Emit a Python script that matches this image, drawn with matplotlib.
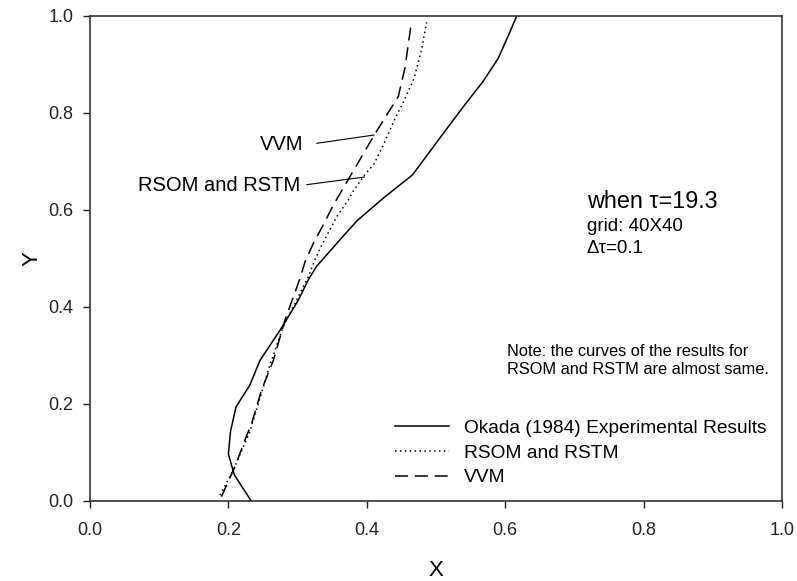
import numpy as np
import matplotlib.pyplot as plt

plt.rcParams['font.family'] = ['Liberation Sans', 'DejaVu Sans']

# Okada (1984) experimental results
okada_x = [0.233, 0.2085, 0.200, 0.203, 0.211, 0.231, 0.2457, 0.2746, 0.301, 0.3155,
           0.327, 0.3565, 0.386, 0.426, 0.4658, 0.5106, 0.5395, 0.568, 0.590, 0.605, 0.6166]
okada_y = [0.0, 0.054, 0.097, 0.143, 0.194, 0.239, 0.29, 0.352, 0.414, 0.456,
           0.483, 0.531, 0.578, 0.627, 0.672, 0.758, 0.813, 0.865, 0.913, 0.961, 1.0]

# RSOM and RSTM
rsom_x = [0.188, 0.207, 0.231, 0.260, 0.279, 0.3035, 0.3155, 0.325, 0.335, 0.344,
          0.3565, 0.373, 0.380, 0.395, 0.411, 0.425, 0.440, 0.452, 0.468, 0.479, 0.4865]
rsom_y = [0.012, 0.064, 0.143, 0.28, 0.359, 0.428, 0.4625, 0.497, 0.528, 0.552,
          0.586, 0.62, 0.638, 0.669, 0.696, 0.7375, 0.786, 0.82, 0.87, 0.93, 0.987]

# VVM
vvm_x = [0.190, 0.2095, 0.226, 0.2336, 0.248, 0.265, 0.2818, 0.3035, 0.3107, 0.3227,
         0.337, 0.3516, 0.377, 0.411, 0.4455, 0.455, 0.4647]
vvm_y = [0.009, 0.071, 0.133, 0.16, 0.229, 0.29, 0.373, 0.459, 0.493, 0.531,
         0.569, 0.61, 0.672, 0.755, 0.834, 0.892, 0.989]

ticks = [0.0, 0.2, 0.4, 0.6, 0.8, 1.0]
tick_labels = ['0.0', '0.2', '0.4', '0.6', '0.8', '1.0']

fig = plt.figure(figsize=(7.97, 5.81), dpi=100)
ax = fig.add_axes([0.1129, 0.1377, 0.8683, 0.8348])

ax.plot(okada_x, okada_y, color='black', lw=1.1, ls='-', label='Okada (1984) Experimental Results')
ax.plot(rsom_x, rsom_y, color='black', lw=1.1, ls=(0, (1, 2.2)), label='RSOM and RSTM')
ax.plot(vvm_x, vvm_y, color='black', lw=1.1, ls=(0, (8.5, 4.5)), label='VVM')

ax.set_xlim(0, 1)
ax.set_ylim(0, 1)
ax.set_xticks(ticks)
ax.set_xticklabels(tick_labels)
ax.set_yticks(ticks)
ax.set_yticklabels(tick_labels)
ax.tick_params(direction='out', length=5, width=1.0, labelsize=13, colors='#222222')
ax.tick_params(axis='x', pad=10)
ax.tick_params(axis='y', pad=7)
for s in ax.spines.values():
    s.set_linewidth(1.2)
    s.set_color('#333333')

ax.set_xlabel('X', fontsize=16, labelpad=15)
ax.set_ylabel('Y', fontsize=16, labelpad=4)

# callout labels with leader lines
ax.annotate('', xy=(0.4108, 0.7546), xytext=(0.3276, 0.7375),
            arrowprops=dict(arrowstyle='-', color='black', lw=0.8, shrinkA=0, shrinkB=0))
ax.text(0.3078, 0.735, 'VVM', fontsize=14.5, ha='right', va='center')
ax.annotate('', xy=(0.397, 0.668), xytext=(0.3132, 0.6522),
            arrowprops=dict(arrowstyle='-', color='black', lw=0.8, shrinkA=0, shrinkB=0))
ax.text(0.3035, 0.650, 'RSOM and RSTM', fontsize=14.5, ha='right', va='center')

ax.text(0.718, 0.617, 'when \u03c4=19.3', fontsize=16.8, va='center')
ax.text(0.718, 0.566, 'grid: 40X40', fontsize=13.5, va='center')
ax.text(0.718, 0.52, '\u0394\u03c4=0.1', fontsize=13.5, va='center')

ax.text(0.602, 0.29, 'Note: the curves of the results for\nRSOM and RSTM are almost same.',
        fontsize=11.8, va='center', linespacing=1.3)

ax.legend(loc='lower right', bbox_to_anchor=(0.978, 0.03), frameon=False, fontsize=13.8,
          borderpad=0, borderaxespad=0,
          handlelength=2.8, handletextpad=0.8, labelspacing=0.38)

fig.savefig('out.png', dpi=100)
